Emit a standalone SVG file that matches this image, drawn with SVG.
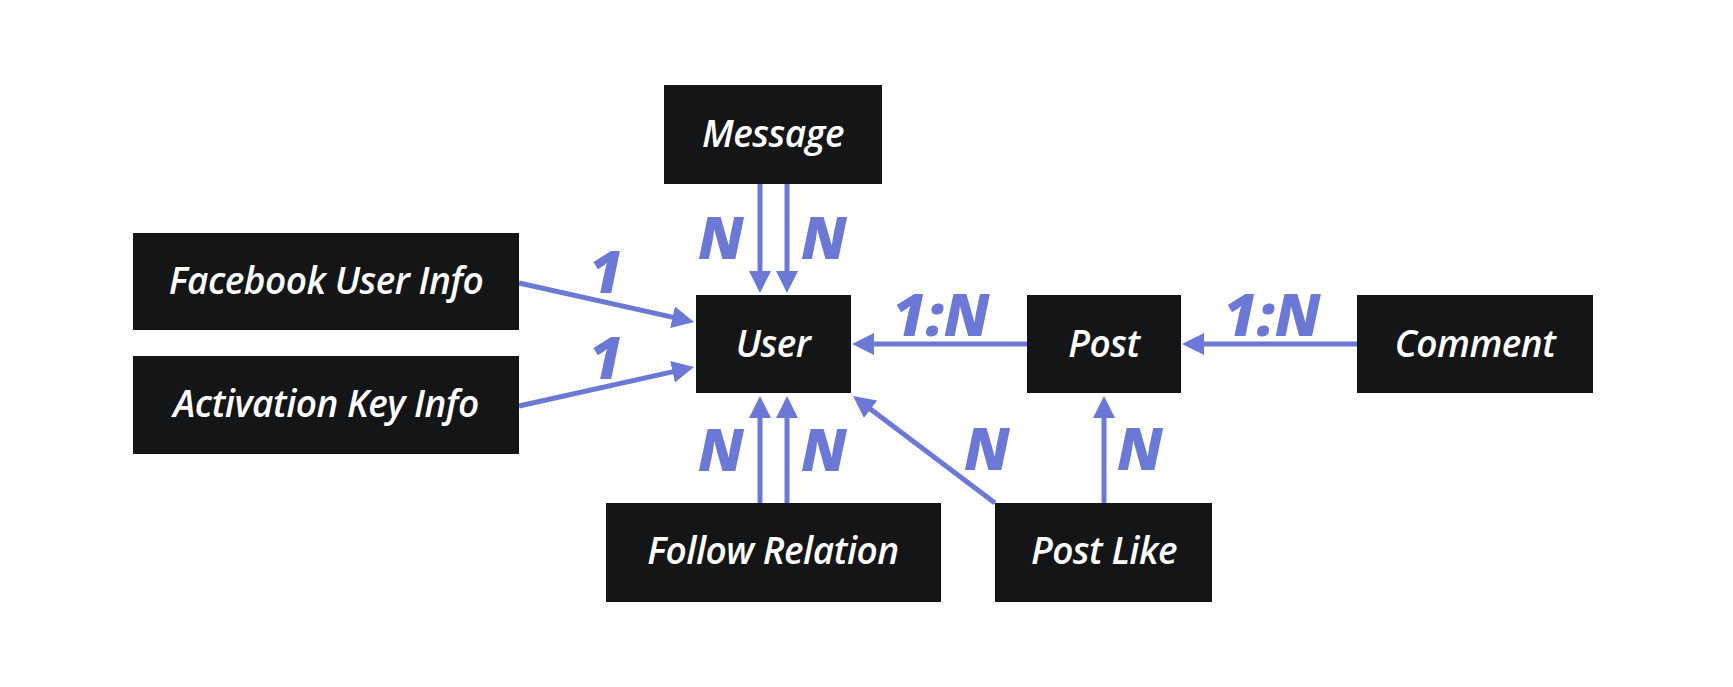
<svg xmlns="http://www.w3.org/2000/svg" width="1733" height="687" viewBox="0 0 1733 687">
<style>
.box{fill:#141517;}
.t{font-family:"Open Sans",Lato,"Liberation Sans",sans-serif;font-weight:600;font-style:italic;font-size:37px;letter-spacing:-0.5px;fill:#ffffff;text-anchor:middle;}
.lbl{font-family:"Open Sans",Lato,"Liberation Sans",sans-serif;font-weight:800;font-style:italic;font-size:58px;fill:#6c78d6;text-anchor:middle;}
.c{stroke:#6c78d6;stroke-width:5;fill:none;marker-end:url(#ah);}
</style>
<defs>
<marker id="ah" markerUnits="userSpaceOnUse" markerWidth="24" markerHeight="24" refX="2" refY="11" orient="auto">
<path d="M0,0 L22,11 L0,22 z" fill="#6c78d6"/>
</marker>
</defs>
<rect width="1733" height="687" fill="#ffffff"/>
<g id="connectors">
<line class="c" x1="760" y1="184" x2="760" y2="273"/>
<line class="c" x1="787" y1="184" x2="787" y2="273"/>
<line class="c" x1="519" y1="283" x2="674.5" y2="317.6"/>
<line class="c" x1="519" y1="406" x2="674.5" y2="371.4"/>
<line class="c" x1="1027" y1="344" x2="872" y2="344"/>
<line class="c" x1="1357" y1="344" x2="1202" y2="344"/>
<line class="c" x1="760" y1="503" x2="760" y2="416"/>
<line class="c" x1="787" y1="503" x2="787" y2="416"/>
<line class="c" x1="995" y1="503" x2="869" y2="408"/>
<line class="c" x1="1104" y1="503" x2="1104" y2="416"/>
<g id="labels">
<text class="lbl" x="721" y="259">N</text>
<text class="lbl" x="824" y="259">N</text>
<text class="lbl" x="606" y="293">1</text>
<text class="lbl" x="606" y="379">1</text>
<text class="lbl" x="941" y="336">1:N</text>
<text class="lbl" x="1272" y="336">1:N</text>
<text class="lbl" x="721" y="471">N</text>
<text class="lbl" x="824" y="471">N</text>
<text class="lbl" x="987" y="470">N</text>
<text class="lbl" x="1140" y="470">N</text>
</g>
</g>
<g id="message"><rect class="box" x="664" y="85" width="218" height="99"/><text class="t" x="773" y="147">Message</text></g>
<g id="facebook"><rect class="box" x="133" y="233" width="386" height="97"/><text class="t" x="326" y="294">Facebook User Info</text></g>
<g id="activation"><rect class="box" x="133" y="356" width="386" height="98"/><text class="t" x="326" y="417">Activation Key Info</text></g>
<g id="user"><rect class="box" x="696" y="295" width="155" height="98"/><text class="t" x="773" y="357">User</text></g>
<g id="post"><rect class="box" x="1027" y="295" width="154" height="98"/><text class="t" x="1104" y="357">Post</text></g>
<g id="comment"><rect class="box" x="1357" y="295" width="236" height="98"/><text class="t" x="1475" y="357">Comment</text></g>
<g id="follow"><rect class="box" x="606" y="503" width="335" height="99"/><text class="t" x="773" y="564">Follow Relation</text></g>
<g id="postlike"><rect class="box" x="995" y="503" width="217" height="99"/><text class="t" x="1104" y="564">Post Like</text></g>
</svg>
